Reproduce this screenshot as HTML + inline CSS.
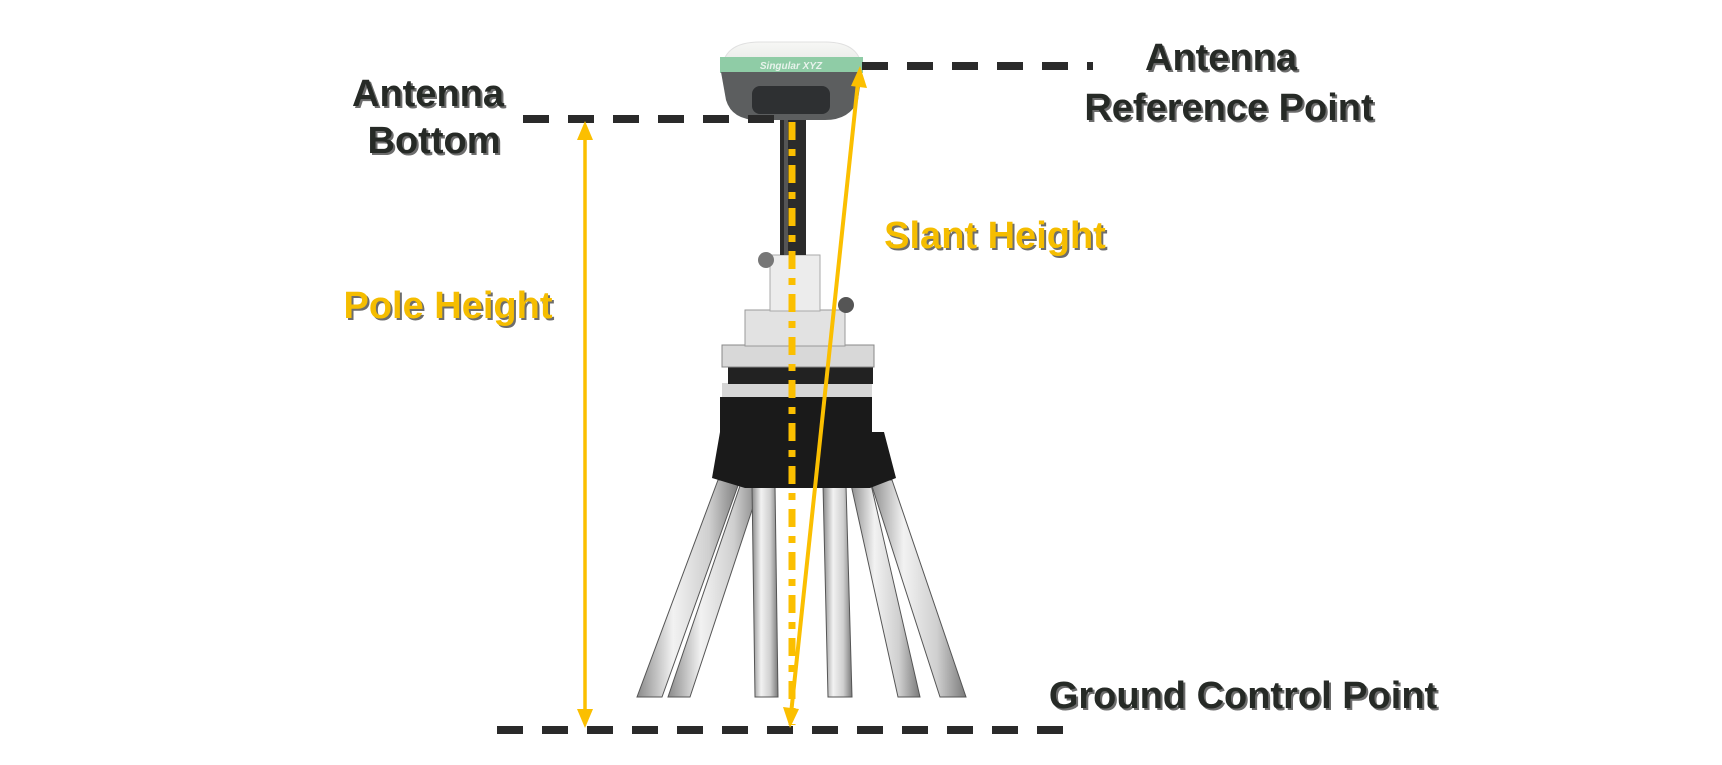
<!DOCTYPE html>
<html><head><meta charset="utf-8"><style>
html,body{margin:0;padding:0;background:#fff}
svg{display:block}
.t{font-family:"Liberation Sans",sans-serif;font-weight:bold;font-size:38px}
</style></head><body>
<svg width="1722" height="765" viewBox="0 0 1722 765" xmlns="http://www.w3.org/2000/svg">
<defs>
<linearGradient id="tube" x1="0" x2="1"><stop offset="0" stop-color="#8a8a8a"/><stop offset=".35" stop-color="#f2f2f2"/><stop offset=".7" stop-color="#cfcfcf"/><stop offset="1" stop-color="#7a7a7a"/></linearGradient>
<linearGradient id="dome" x1="0" y1="0" x2="0" y2="1"><stop offset="0" stop-color="#f7f7f5"/><stop offset="1" stop-color="#e3e6e3"/></linearGradient>
</defs>
<!-- tripod legs -->
<g stroke="#555" stroke-width="1">
<polygon points="718,480 740,480 662,697 637,697" fill="url(#tube)"/>
<polygon points="742,480 762,480 690,697 668,697" fill="url(#tube)"/>
<polygon points="752,485 775,485 778,697 755,697" fill="url(#tube)"/>
<polygon points="823,485 846,485 852,697 828,697" fill="url(#tube)"/>
<polygon points="850,480 870,480 920,697 898,697" fill="url(#tube)"/>
<polygon points="870,480 892,480 966,697 940,697" fill="url(#tube)"/>
</g>
<!-- tripod head -->
<polygon points="720,397 872,397 872,432 884,432 896,478 870,488 745,488 712,478 720,432" fill="#1a1a1a"/>
<rect x="722" y="383" width="150" height="14" fill="#d6d6d6"/>
<rect x="728" y="366" width="145" height="18" fill="#222"/>
<rect x="722" y="345" width="152" height="22" fill="#d8d8d8" stroke="#888"/>
<rect x="745" y="310" width="100" height="36" fill="#e2e2e2" stroke="#999"/>
<rect x="770" y="255" width="50" height="56" fill="#ececec" stroke="#aaa"/>
<circle cx="766" cy="260" r="8" fill="#777"/>
<circle cx="846" cy="305" r="8" fill="#555"/>
<!-- pole -->
<rect x="780" y="119" width="26" height="136" fill="#2b2b2b"/>
<rect x="784" y="119" width="4" height="136" fill="#555"/>
<!-- receiver -->
<path d="M722,72 Q722,42 760,42 L825,42 Q862,42 862,72 Z" fill="url(#dome)" stroke="#e0e0e0"/>
<rect x="720" y="57" width="143" height="16" fill="#8fcca6"/>
<text x="791" y="69" font-family="Liberation Sans,sans-serif" font-size="10" font-style="italic" font-weight="bold" fill="#e8f3ec" text-anchor="middle">Singular XYZ</text>
<path d="M721,72 L862,72 L858,100 Q850,120 825,120 L758,120 Q732,120 726,100 Z" fill="#5c5e5f"/>
<rect x="752" y="86" width="78" height="28" rx="8" fill="#2e3032"/>
<!-- dashed reference lines -->
<g stroke="#2a2a2a" stroke-width="8" stroke-dasharray="26,19">
<line x1="523" y1="119" x2="774" y2="119"/>
<line x1="862" y1="66" x2="1093" y2="66"/>
<line x1="497" y1="730" x2="1063" y2="730"/>
</g>
<!-- yellow dash-dot vertical -->
<line x1="792" y1="122" x2="792" y2="725" stroke="#fbbf00" stroke-width="7" stroke-dasharray="18,9,7,9"/>
<!-- pole height arrow -->
<line x1="585" y1="134" x2="585" y2="714" stroke="#fbbf00" stroke-width="3.5"/>
<polygon points="585,121 577,140 593,140" fill="#fbbf00"/>
<polygon points="585,728 577,709 593,709" fill="#fbbf00"/>
<!-- slant arrow -->
<line x1="791" y1="714" x2="858" y2="82" stroke="#fbbf00" stroke-width="4"/>
<polygon points="860,66 851,86 867,88" fill="#fbbf00"/>
<polygon points="790,728 783,707 799,709" fill="#fbbf00"/>
<!-- labels -->
<g class="t" text-anchor="middle">
<g fill="#6d6d6d" transform="translate(2,2)">
<text x="428" y="106">Antenna</text><text x="434" y="153">Bottom</text>
<text x="1221" y="70">Antenna</text><text x="1229" y="120">Reference Point</text>
<text x="995" y="248">Slant Height</text><text x="448" y="318">Pole Height</text>
<text x="1243" y="708">Ground Control Point</text>
</g>
<g fill="#262a26">
<text x="428" y="106">Antenna</text><text x="434" y="153">Bottom</text>
<text x="1221" y="70">Antenna</text><text x="1229" y="120">Reference Point</text>
<text x="1243" y="708">Ground Control Point</text>
</g>
<g fill="#f5bd00">
<text x="995" y="248">Slant Height</text><text x="448" y="318">Pole Height</text>
</g>
</g>
</svg>
</body></html>
